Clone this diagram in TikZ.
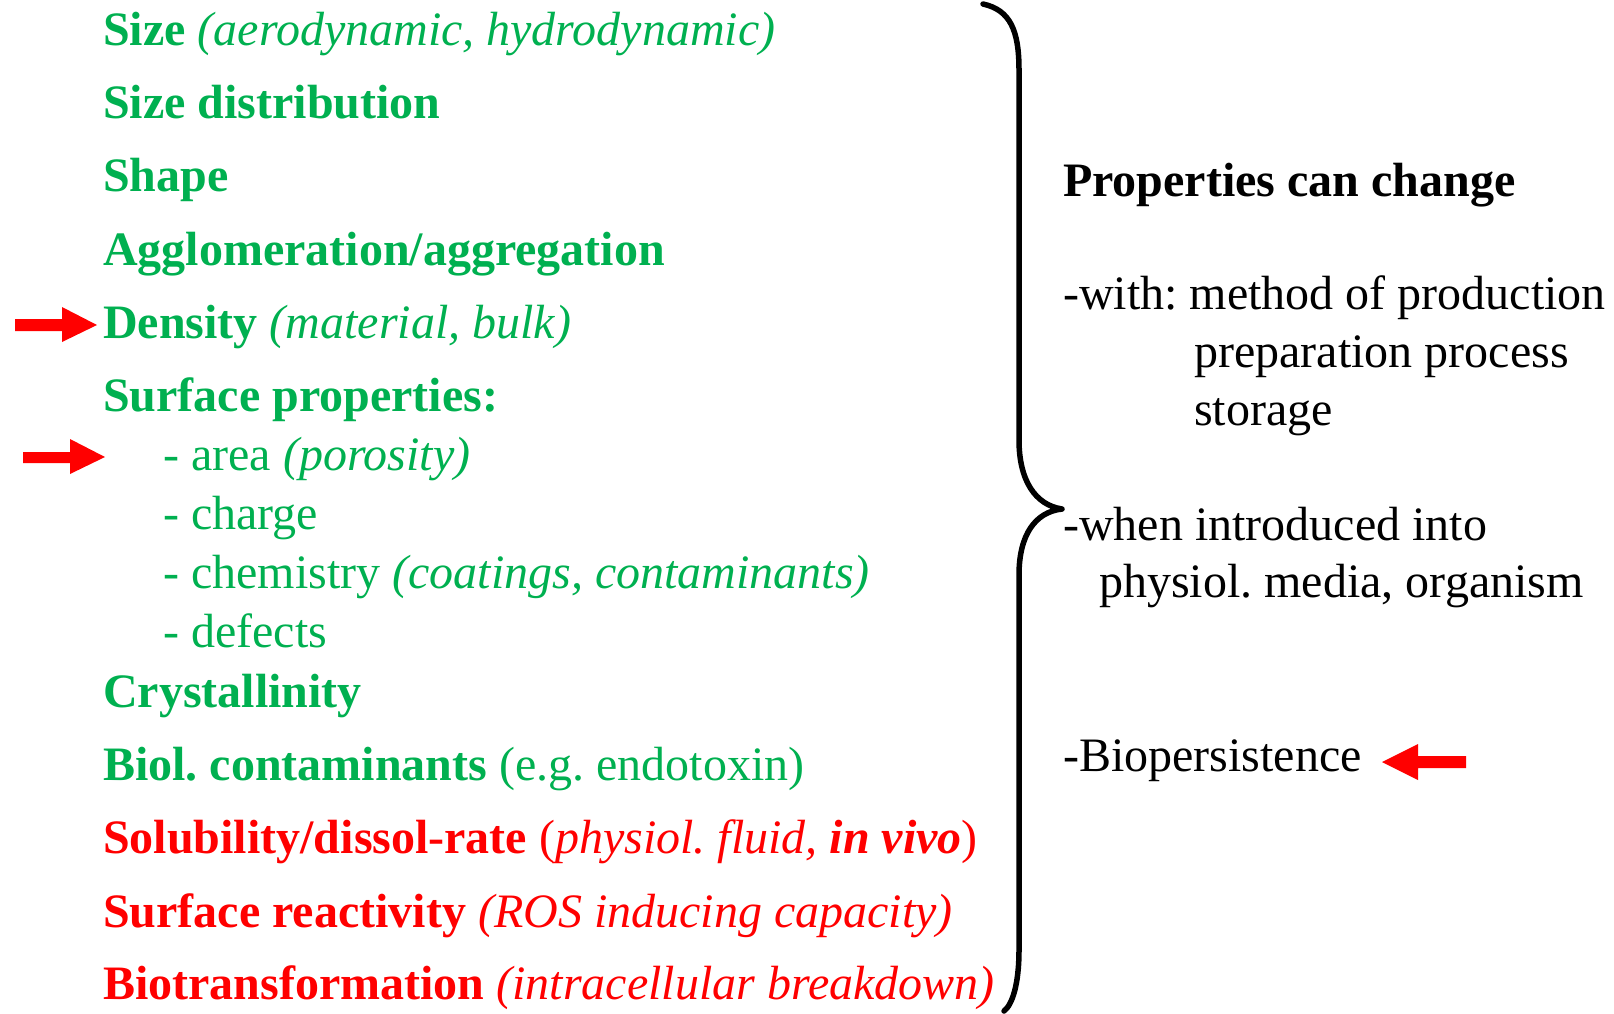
\documentclass[tikz,border=0pt]{standalone}
\usepackage{fontspec}
\setmainfont{Liberation Serif}
\frenchspacing
\definecolor{pgreen}{HTML}{00B050}
\definecolor{pred}{HTML}{FF0000}
\begin{document}
\begin{tikzpicture}[x=1pt,y=-1pt,
  txt/.style={anchor=base west,inner sep=0pt,font=\fontsize{48}{58}\selectfont\frenchspacing},
  gtxt/.style={txt,text=pgreen},
  rtxt/.style={txt,text=pred},
  ktxt/.style={txt,text=black},
  redarrow/.style={fill=pred,draw=none}]
\useasboundingbox (0,0) rectangle (1614,1013);
% left column
\node[gtxt] (size) at (103,45) {\textbf{Size} \textit{(aerodynamic, hydrodynamic)}};
\node[gtxt] (sdist) at (103,118) {\textbf{Size distribution}};
\node[gtxt] (shape) at (103,191) {\textbf{Shape}};
\node[gtxt] (aggl) at (103,265) {\textbf{Agglomeration/aggregation}};
\node[gtxt] (dens) at (103,338) {\textbf{Density} \textit{(material, bulk)}};
\node[gtxt] (surf) at (103,411) {\textbf{Surface properties:}};
\node[gtxt] (area) at (163,470) {- area \textit{(porosity)}};
\node[gtxt] (charge) at (163,529) {- charge};
\node[gtxt] (chem) at (163,588) {- chemistry \textit{(coatings, contaminants)}};
\node[gtxt] (defects) at (163,647) {- defects};
\node[gtxt] (cryst) at (103,707) {\textbf{Crystallinity}};
\node[gtxt] (biol) at (103,780) {\textbf{Biol. contaminants} (e.g. endotoxin)};
\node[rtxt] (solub) at (103,853) {\textbf{Solubility/dissol-rate} (\textit{physiol. fluid, \textbf{in vivo}})};
\node[rtxt] (react) at (103,927) {\textbf{Surface reactivity} \textit{(ROS inducing capacity)}};
\node[rtxt] (biotr) at (103,999) {\textbf{Biotransformation} \textit{(intracellular breakdown)}};
% right column
\node[ktxt] (prop) at (1063,196) {\textbf{Properties can change}};
\node[ktxt] (with) at (1063,309) {-with: method of production};
\node[ktxt] (prep) at (1194,367) {preparation process};
\node[ktxt] (stor) at (1194,425) {storage};
\node[ktxt] (when) at (1063,540) {-when introduced into};
\node[ktxt] (phys) at (1099,597) {physiol. media, organism};
\node[ktxt] (biop) at (1063,771) {-Biopersistence};
% brace
\coordinate (btop) at (983,4);
\coordinate (btip) at (1062,509);
\coordinate (bbot) at (1004,1011);
\draw[line width=5.5pt,line cap=round,line join=round]
  (btop) .. controls (1010,10) and (1019,30) .. (1019,70)
  -- (1019,440) .. controls (1019,480) and (1035,505) .. (btip)
  .. controls (1035,512) and (1019,535) .. (1019,575)
  -- (1019,950) .. controls (1019,985) and (1012,1005) .. (bbot);
% red arrows
\fill[redarrow] (15,319) -- (62,319) -- (62,307) -- (97,325) -- (62,342) -- (62,331) -- (15,331) -- cycle;
\fill[redarrow] (23,452) -- (70,452) -- (70,439) -- (105,457) -- (70,474) -- (70,463) -- (23,463) -- cycle;
\fill[redarrow] (1466,756) -- (1418,756) -- (1418,744) -- (1382,762) -- (1418,780) -- (1418,768) -- (1466,768) -- cycle;
\end{tikzpicture}
\end{document}
